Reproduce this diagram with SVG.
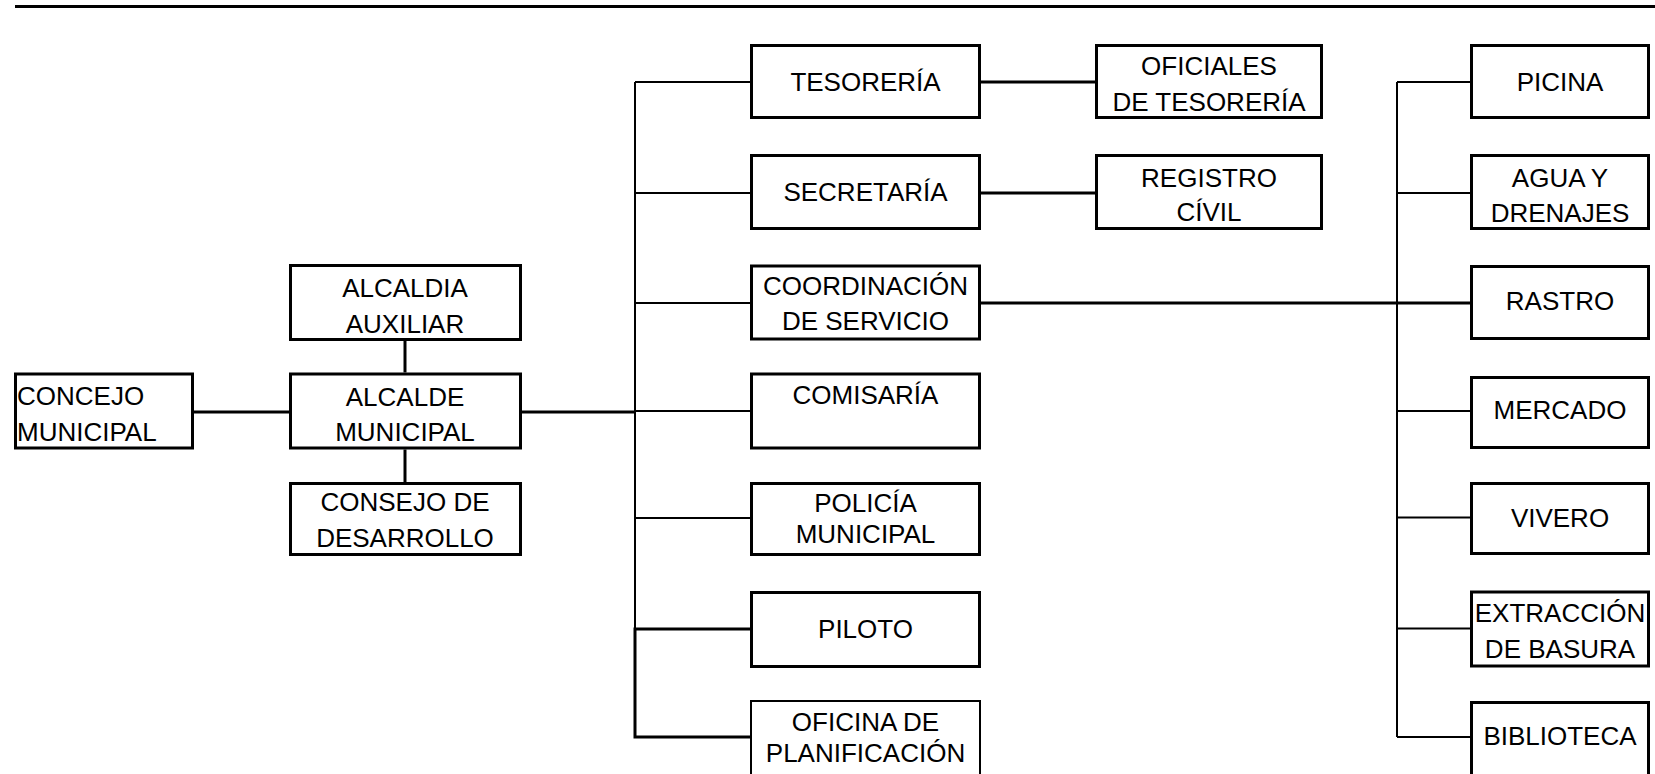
<svg xmlns="http://www.w3.org/2000/svg" width="1655" height="774" viewBox="0 0 1655 774">
<style>
.box{fill:#fff;stroke:#000;stroke-width:3}
.thin{stroke-width:2}
.c{stroke:#000;stroke-width:2;fill:none}
.k{stroke-width:3}
text{font-family:"Liberation Sans",Arial,sans-serif;font-size:26px;fill:#000;text-anchor:middle}
.l{text-anchor:start}
</style>
<rect width="1655" height="774" fill="#fff"/>
<g id="connectors">
<line class="c k" x1="15" y1="6.5" x2="1655" y2="6.5"/>
<line class="c k" x1="194" y1="412" x2="289" y2="412"/>
<line class="c k" x1="405" y1="341" x2="405" y2="372.5"/>
<line class="c k" x1="405" y1="449.5" x2="405" y2="482"/>
<line class="c k" x1="522" y1="412" x2="635" y2="412"/>
<line class="c" x1="635" y1="82" x2="635" y2="629"/>
<polyline class="c k" points="750,629 635,629 635,737 750,737"/>
<line class="c" x1="635" y1="82" x2="750" y2="82"/>
<line class="c" x1="635" y1="193" x2="750" y2="193"/>
<line class="c" x1="635" y1="303" x2="750" y2="303"/>
<line class="c" x1="635" y1="411" x2="750" y2="411"/>
<line class="c" x1="635" y1="518" x2="750" y2="518"/>
<line class="c k" x1="981" y1="82" x2="1095" y2="82"/>
<line class="c k" x1="981" y1="193" x2="1095" y2="193"/>
<line class="c k" x1="981" y1="303" x2="1470" y2="303"/>
<line class="c" x1="1397" y1="82" x2="1397" y2="737"/>
<line class="c" x1="1397" y1="82" x2="1470" y2="82"/>
<line class="c" x1="1397" y1="193" x2="1470" y2="193"/>
<line class="c" x1="1397" y1="411" x2="1470" y2="411"/>
<line class="c" x1="1397" y1="517.5" x2="1470" y2="517.5"/>
<line class="c" x1="1397" y1="628.5" x2="1470" y2="628.5"/>
<line class="c" x1="1397" y1="737" x2="1470" y2="737"/>
</g>
<g id="concejo"><rect class="box" x="15.5" y="374" width="177" height="74"/><text class="l" x="17" y="405">CONCEJO</text><text class="l" x="17" y="441">MUNICIPAL</text></g>
<g id="alcaldia"><rect class="box" x="290.5" y="265.5" width="230" height="74"/><text x="405" y="297">ALCALDIA</text><text x="405" y="333">AUXILIAR</text></g>
<g id="alcalde"><rect class="box" x="290.5" y="374" width="230" height="74"/><text x="405" y="405.5">ALCALDE</text><text x="405" y="441">MUNICIPAL</text></g>
<g id="consejo"><rect class="box" x="290.5" y="483.5" width="230" height="71"/><text x="405" y="511">CONSEJO DE</text><text x="405" y="547">DESARROLLO</text></g>
<g id="tesoreria"><rect class="box" x="751.5" y="45.5" width="228" height="72"/><text x="865.5" y="90.5">TESORERÍA</text></g>
<g id="secretaria"><rect class="box" x="751.5" y="155.5" width="228" height="73"/><text x="865.5" y="201">SECRETARÍA</text></g>
<g id="coordinacion"><rect class="box" x="751.5" y="266" width="228" height="73"/><text x="865.5" y="295">COORDINACIÓN</text><text x="865.5" y="330">DE SERVICIO</text></g>
<g id="comisaria"><rect class="box" x="751.5" y="374" width="228" height="74"/><text x="865.5" y="403.5">COMISARÍA</text></g>
<g id="policia"><rect class="box" x="751.5" y="483.5" width="228" height="71"/><text x="865.5" y="511.5">POLICÍA</text><text x="865.5" y="543">MUNICIPAL</text></g>
<g id="piloto"><rect class="box" x="751.5" y="592.5" width="228" height="74"/><text x="865.5" y="637.5">PILOTO</text></g>
<g id="oficina"><rect class="box thin" x="751" y="701" width="229" height="90"/><text x="865.5" y="731">OFICINA DE</text><text x="865.5" y="762">PLANIFICACIÓN</text></g>
<g id="oficiales"><rect class="box" x="1096.5" y="45.5" width="225" height="72"/><text x="1209" y="75">OFICIALES</text><text x="1209" y="111">DE TESORERÍA</text></g>
<g id="registro"><rect class="box" x="1096.5" y="155.5" width="225" height="73"/><text x="1209" y="187">REGISTRO</text><text x="1209" y="221">CÍVIL</text></g>
<g id="picina"><rect class="box" x="1471.5" y="45.5" width="177" height="72"/><text x="1560" y="90.5">PICINA</text></g>
<g id="agua"><rect class="box" x="1471.5" y="155.5" width="177" height="73"/><text x="1560" y="187">AGUA Y</text><text x="1560" y="221.5">DRENAJES</text></g>
<g id="rastro"><rect class="box" x="1471.5" y="266.5" width="177" height="72"/><text x="1560" y="310">RASTRO</text></g>
<g id="mercado"><rect class="box" x="1471.5" y="377.5" width="177" height="70"/><text x="1560" y="419">MERCADO</text></g>
<g id="vivero"><rect class="box" x="1471.5" y="483.5" width="177" height="70"/><text x="1560" y="526.5">VIVERO</text></g>
<g id="extraccion"><rect class="box" x="1471.5" y="592" width="177" height="74"/><text x="1560" y="622">EXTRACCIÓN</text><text x="1560" y="658">DE BASURA</text></g>
<g id="biblioteca"><rect class="box" x="1471.5" y="702.5" width="177" height="90"/><text x="1560" y="745">BIBLIOTECA</text></g>
</svg>
